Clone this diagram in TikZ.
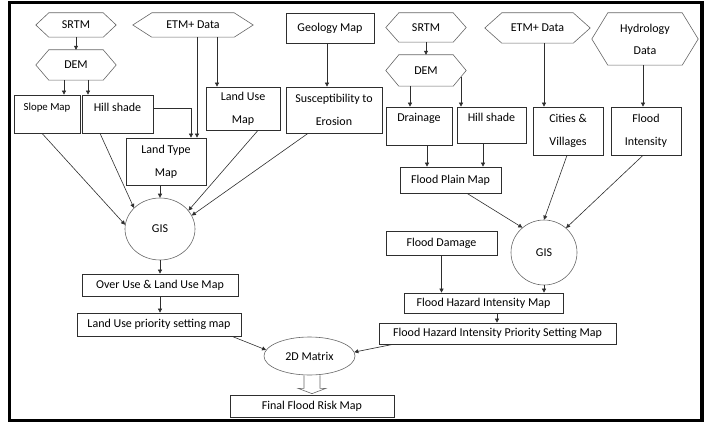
\documentclass[tikz,border=0pt]{standalone}
\usepackage{fontspec}
\setmainfont{Carlito}
\usetikzlibrary{arrows.meta,calc,shapes.geometric}
\definecolor{ln}{HTML}{2E2E2E}
\definecolor{hx}{HTML}{666666}
\tikzset{
  box/.style={draw=ln, line width=0.7pt, rectangle, inner sep=0pt, font=\fontsize{12}{23}\selectfont, align=center, text=black},
  hexnode/.style={draw=none, rectangle, inner sep=0pt, font=\fontsize{12}{22}\selectfont, align=center, text=black},
  ell/.style={draw=hx, line width=0.6pt, ellipse, inner sep=0pt, font=\fontsize{12}{14}\selectfont, text=black},
  arr/.style={draw=ln, line width=0.6pt, -{Triangle[length=4pt,width=4pt]}},
  toptext/.style={text height=8pt, text depth=#1},
}
\newcommand\hexdraw[2]{\draw[hx, line width=0.6pt] (#1.west) -- ([xshift=#2]#1.north west) -- ([xshift=-#2]#1.north east) -- (#1.east) -- ([xshift=-#2]#1.south east) -- ([xshift=#2]#1.south west) -- cycle;}
\begin{document}
\begin{tikzpicture}[x=1pt,y=-1pt]
\useasboundingbox (0,0) rectangle (709,425);
\draw[black, line width=3.5pt] (9.5,2.5) rectangle (702,420.5);

% ---------- left branch ----------
\node[hexnode, minimum width=80pt, minimum height=24pt] (srtm1) at (76,25) {SRTM};
\hexdraw{srtm1}{13pt}
\node[hexnode, minimum width=80pt, minimum height=30pt] (dem1) at (76,65) {DEM};
\hexdraw{dem1}{13pt}
\node[hexnode, minimum width=120pt, minimum height=24pt] (etm1) at (193,25) {ETM+ Data};
\hexdraw{etm1}{19pt}
\node[box, minimum width=88pt, minimum height=30pt] (geology) at (330,28) {Geology Map};

\node[box, minimum width=66pt, minimum height=38pt, font=\fontsize{10.8}{12}\selectfont, toptext=14pt] (slope) at (47,114) {Slope Map};
\node[box, minimum width=71pt, minimum height=38pt, toptext=12pt] (hill1) at (117.5,114) {Hill shade};
\node[box, minimum width=74pt, minimum height=43pt] (landuse) at (243,108.5) {Land Use\\Map};
\node[box, minimum width=96pt, minimum height=46pt] (suscept) at (334,110) {Susceptibility to\\Erosion};
\node[box, minimum width=80pt, minimum height=47pt] (landtype) at (166,161.5) {Land Type\\Map};

\node[ell, minimum width=70pt, minimum height=62pt] (gis1) at (160,229) {GIS};
\node[box, minimum width=156pt, minimum height=22pt] (overuse) at (160,285) {Over Use \& Land Use Map};
\node[box, minimum width=164pt, minimum height=23pt] (lups) at (159,324.5) {Land Use priority setting map};

\node[ell, minimum width=91pt, minimum height=38pt] (mat) at (309.5,356) {2D Matrix};
\node[box, minimum width=164pt, minimum height=22pt] (final) at (312,406) {Final Flood Risk Map};

% ---------- right branch ----------
\node[hexnode, minimum width=80pt, minimum height=29pt] (srtm2) at (426,27.5) {SRTM};
\hexdraw{srtm2}{13pt}
\node[hexnode, minimum width=80pt, minimum height=31pt] (dem2) at (426,70.5) {DEM};
\hexdraw{dem2}{13pt}
\node[hexnode, minimum width=105pt, minimum height=30pt] (etm2) at (537.5,28) {ETM+ Data};
\hexdraw{etm2}{17pt}
\node[hexnode, minimum width=106pt, minimum height=52pt] (hydro) at (645,39) {Hydrology\\Data};
\hexdraw{hydro}{16pt}

\node[box, minimum width=66pt, minimum height=38pt, toptext=16pt] (drain) at (419,126) {Drainage};
\node[box, minimum width=69pt, minimum height=36pt, toptext=14pt] (hill2) at (491.5,125) {Hill shade};
\node[box, minimum width=70pt, minimum height=48pt] (cities) at (568,131) {Cities \&\\Villages};
\node[box, minimum width=70pt, minimum height=48pt] (floodint) at (646,131) {Flood\\Intensity};
\node[box, minimum width=101pt, minimum height=26pt] (fpm) at (450.5,180) {Flood Plain Map};

\node[ell, minimum width=66pt, minimum height=65pt] (gis2) at (544,252.5) {GIS};
\node[box, minimum width=111pt, minimum height=24pt] (damage) at (441.5,243) {Flood Damage};
\node[box, minimum width=159pt, minimum height=20pt] (fhim) at (483.5,303) {Flood Hazard Intensity Map};
\node[box, minimum width=237pt, minimum height=21pt] (fhipsm) at (497.5,333.5) {Flood Hazard Intensity Priority Setting Map};

% ---------- connectors left ----------
\draw[arr] (srtm1.south) -- (dem1.north);
\draw[arr] ([xshift=-12pt]dem1.south) -- ([xshift=-12pt]dem1.south |- slope.north);
\draw[arr] ([xshift=12pt]dem1.south) -- ([xshift=12pt]dem1.south |- hill1.north);
\draw[arr] ([xshift=24pt]etm1.south) -- ([xshift=24pt]etm1.south |- landuse.north);
\draw[arr] ([xshift=4pt]etm1.south) -- ([xshift=4pt]etm1.south |- landtype.north);
\draw[arr] ([yshift=6pt]hill1.east) -| ([xshift=25pt]landtype.north);
\draw[arr] ([xshift=-3pt]geology.south) -- ([xshift=-3pt]geology.south |- suscept.north);
\draw[arr] ([xshift=-5pt]slope.south) -- (gis1.173);
\draw[arr] ([xshift=-17.5pt]hill1.south) -- (gis1.141);
\draw[arr] ([xshift=-6pt]landtype.south) -- ([xshift=-6pt]landtype.south |- gis1.north);
\draw[arr] ([xshift=15pt]landuse.south) -- (gis1.33);
\draw[arr] ([xshift=-26pt]suscept.south) -- (gis1.23);
\draw[arr] (gis1.south) -- (gis1.south |- overuse.north);
\draw[arr] (overuse.south) -- (overuse.south |- lups.north);
\draw[arr] ([xshift=73pt]lups.south) -- (mat.172);

% ---------- connectors right ----------
\draw[arr] (srtm2.south) -- (dem2.north);
\draw[arr] ([xshift=-16pt]dem2.south) -- ([xshift=-16pt]dem2.south |- drain.north);
\draw[arr] ([xshift=35pt,yshift=-6.5pt]dem2.center) -- ([xshift=35pt]dem2.center |- hill2.north);
\draw[arr] ([xshift=6.5pt]etm2.south) -- ([xshift=6.5pt]etm2.south |- cities.north);
\draw[arr] ([xshift=-2pt]hydro.south) -- ([xshift=-2pt]hydro.south |- floodint.north);
\draw[arr] ([xshift=8pt]drain.south) -- ([xshift=8pt]drain.south |- fpm.north);
\draw[arr] ([xshift=-8.5pt]hill2.south) -- ([xshift=-8.5pt]hill2.south |- fpm.north);
\draw[arr] ([xshift=16.5pt]fpm.south) -- (gis2.131);
\draw[arr] ([xshift=-1pt]cities.south) -- (gis2.north);
\draw[arr] ([xshift=-3pt]floodint.south) -- (gis2.48);
\draw[arr] (damage.south) -- (damage.south |- fhim.north);
\draw[arr] (gis2.south) -- (gis2.south |- fhim.north);
\draw[arr] ([xshift=13.5pt]fhim.south) -- ([xshift=13.5pt]fhim.south |- fhipsm.north);
\draw[arr] ([xshift=-104.5pt]fhipsm.south) -- (mat.5);

% ---------- hollow block arrow ----------
\coordinate (ba) at (mat.south -| final.north);
\draw[hx, line width=0.6pt] ($(ba)+(-8,0)$) -- ($(ba)+(-8,13)$) -- ($(ba)+(-14,13)$) -- ([yshift=1pt]final.north) -- ($(ba)+(14,13)$) -- ($(ba)+(8,13)$) -- ($(ba)+(8,0)$);
\end{tikzpicture}
\end{document}
